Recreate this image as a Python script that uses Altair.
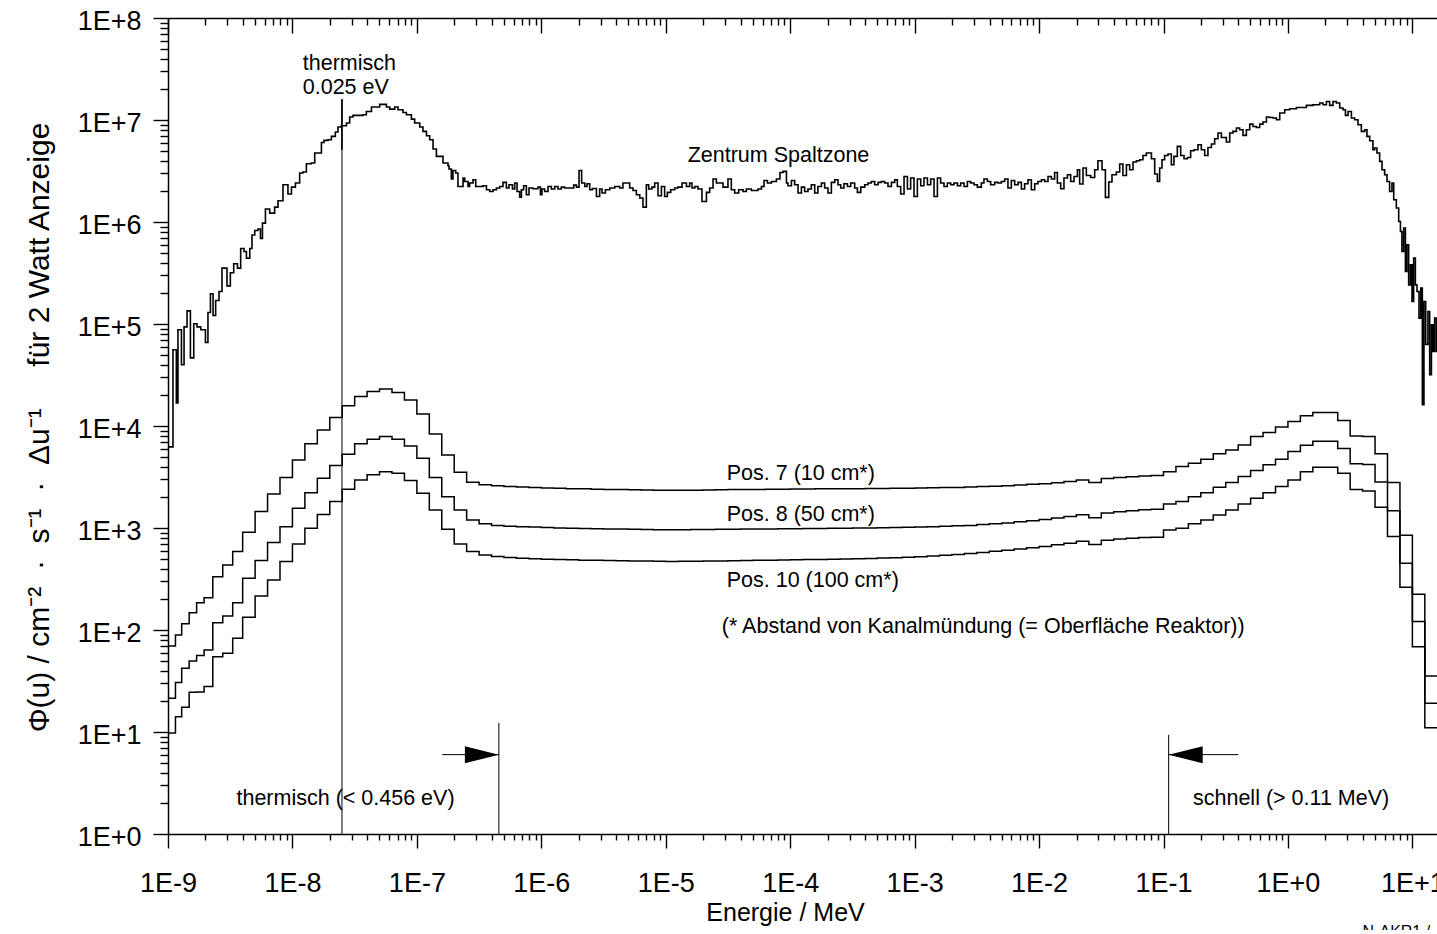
import altair as alt
import numpy as np
import pandas as pd

FONT = "Liberation Sans"

# ---------------- data ----------------
# Bin edges (MeV) of the Pos. 7 / 8 / 10 spectra: ten narrow bins below 5e-9 MeV,
# then a regular group structure with 10 groups per decade up to ~16 MeV
pos_low_edges = [1.0e-9, 1.148e-9, 1.288e-9, 1.479e-9, 1.698e-9,
                 1.950e-9, 2.291e-9, 2.754e-9, 3.311e-9, 3.981e-9]
pos_decade_edges = np.logspace(-8.3, 1.2, 96).tolist()

pos7 = [69.8, 89.5, 115, 148, 185, 207, 333, 434, 587, 910,
        1450, 2150, 3120, 4650, 6680, 9160, 12100, 15800, 19500, 21800,
        23000, 21300, 18000, 13100, 8370, 5210, 3520, 2810, 2650, 2600,
        2550, 2520, 2500, 2470, 2450, 2430, 2420, 2400, 2390, 2380,
        2370, 2360, 2350, 2340, 2350, 2350, 2360, 2370, 2380, 2380,
        2390, 2400, 2400, 2410, 2410, 2420, 2420, 2430, 2430, 2440,
        2440, 2450, 2460, 2470, 2480, 2490, 2500, 2520, 2550, 2570,
        2600, 2640, 2680, 2720, 2780, 2850, 2950, 2800, 3050, 3120,
        3180, 3230,
        3270, 3570, 4000, 4320, 4730, 5330, 5830, 6530, 7870, 8630,
        9750, 11100, 12600, 13600, 13600, 11300, 8000, 7870, 5330, 2790,
        849, 224, 35.4]

pos8 = [21.4, 30.5, 42.2, 49.7, 56.1, 63.7, 118, 137, 185, 322,
        479, 719, 1030, 1560, 2220, 3080, 4090, 5290, 6680, 7430,
        7870, 7430, 6380, 4840, 3120, 2030, 1500, 1200, 1100, 1060,
        1040, 1030, 1020, 1010, 1000, 995, 990, 985, 980, 975,
        970, 965, 962, 960, 962, 965, 968, 970, 972, 975,
        978, 980, 982, 985, 988, 990, 993, 996, 1000, 1000,
        1005, 1010, 1015, 1020, 1030, 1040, 1050, 1060, 1080, 1100,
        1120, 1150, 1180, 1210, 1250, 1300, 1350, 1260, 1400, 1440,
        1480, 1510,
        1530, 1720, 1820, 2030, 2220, 2510, 2790, 3190, 3660, 4160,
        4730, 5610, 6490, 7100, 7100, 6010, 4260, 4190, 2830, 1480,
        452, 121, 19.1]

pos10 = [9.8, 14.1, 17.5, 24.5, 24.7, 27.9, 54.8, 59.2, 83, 133,
         216, 310, 469, 698, 995, 1360, 1820, 2400, 2960, 3320,
         3570, 3440, 2920, 2190, 1500, 973, 698, 587, 545, 525,
         515, 505, 500, 495, 490, 487, 484, 482, 480, 478,
         476, 474, 472, 470, 471, 472, 474, 476, 478, 480,
         482, 484, 486, 488, 490, 492, 494, 497, 500, 503,
         507, 511, 516, 522, 530, 540, 550, 562, 575, 590,
         605, 622, 640, 660, 685, 710, 740, 690, 760, 780,
         795, 805,
         813, 958, 995, 1100, 1200, 1340, 1500, 1720, 1960, 2220,
         2550, 2960, 3570, 3940, 3940, 3440, 2380, 2310, 1600, 824,
         262, 68.7, 11.0]

# "Zentrum Spaltzone": fine-group spectrum, read as (log10 E/MeV at group start, log10 flux)
zentrum_thermal = [
    (-9.000, 3.795), (-8.960, 4.747), (-8.933, 4.227), (-8.920, 4.943), (-8.892, 4.600),
    (-8.871, 4.972), (-8.847, 5.129), (-8.820, 4.668), (-8.793, 5.002), (-8.767, 4.972),
    (-8.737, 4.943), (-8.699, 4.818), (-8.679, 5.113), (-8.659, 5.296), (-8.638, 5.083),
    (-8.617, 5.230), (-8.590, 5.319), (-8.566, 5.548), (-8.526, 5.374), (-8.499, 5.502),
    (-8.472, 5.590), (-8.442, 5.548), (-8.416, 5.740), (-8.389, 5.711), (-8.370, 5.646),
    (-8.343, 5.740), (-8.325, 5.872), (-8.303, 5.917), (-8.277, 5.931), (-8.257, 5.838),
    (-8.241, 5.989), (-8.217, 6.127), (-8.183, 6.087), (-8.143, 6.146), (-8.116, 6.208),
    (-8.076, 6.365), (-8.036, 6.274), (-8.008, 6.342), (-7.976, 6.382), (-7.942, 6.480),
    (-7.915, 6.490), (-7.888, 6.571), (-7.848, 6.578), (-7.821, 6.676), (-7.767, 6.780),
    (-7.746, 6.800), (-7.714, 6.807), (-7.687, 6.839), (-7.655, 6.882), (-7.634, 6.931),
    (-7.607, 6.944), (-7.566, 6.970), (-7.540, 7.029), (-7.513, 7.045), (-7.433, 7.052),
    (-7.406, 7.084), (-7.365, 7.127), (-7.299, 7.153), (-7.245, 7.127), (-7.218, 7.107),
    (-7.178, 7.127), (-7.152, 7.101), (-7.112, 7.074), (-7.084, 7.052), (-7.044, 7.009),
    (-7.018, 6.970), (-6.977, 6.931), (-6.951, 6.888), (-6.923, 6.846), (-6.897, 6.806),
    (-6.870, 6.715), (-6.843, 6.643), (-6.790, 6.578), (-6.750, 6.551), (-6.742, 6.519),
    (-6.723, 6.421), (-6.710, 6.505), (-6.688, 6.480), (-6.670, 6.348), (-6.629, 6.431),
    (-6.616, 6.397), (-6.589, 6.348), (-6.576, 6.382), (-6.549, 6.414), (-6.527, 6.348),
]
zentrum_epithermal = [
    (-6.469, 6.355), (-6.441, 6.316), (-6.415, 6.299), (-6.388, 6.316), (-6.361, 6.333),
    (-6.334, 6.348), (-6.308, 6.388), (-6.281, 6.333), (-6.260, 6.365), (-6.232, 6.323),
    (-6.214, 6.382), (-6.195, 6.299), (-6.174, 6.244), (-6.160, 6.316), (-6.142, 6.355),
    (-6.120, 6.267), (-6.099, 6.333), (-6.067, 6.326), (-6.027, 6.342), (-6.007, 6.267),
    (-5.995, 6.323), (-5.973, 6.299), (-5.946, 6.348), (-5.919, 6.323), (-5.892, 6.348),
    (-5.866, 6.323), (-5.839, 6.342), (-5.812, 6.333), (-5.740, 6.362), (-5.718, 6.342),
    (-5.697, 6.505), (-5.676, 6.382), (-5.651, 6.348), (-5.633, 6.375), (-5.611, 6.316),
    (-5.590, 6.328), (-5.557, 6.250), (-5.531, 6.323), (-5.512, 6.284), (-5.485, 6.316),
    (-5.450, 6.333), (-5.410, 6.348), (-5.370, 6.333), (-5.344, 6.382), (-5.290, 6.333),
    (-5.263, 6.309), (-5.236, 6.267), (-5.209, 6.235), (-5.183, 6.146), (-5.156, 6.365),
    (-5.137, 6.323), (-5.111, 6.342), (-5.089, 6.382), (-5.062, 6.257), (-5.035, 6.348),
    (-5.009, 6.250), (-4.987, 6.290), (-4.960, 6.316), (-4.928, 6.333), (-4.902, 6.342),
    (-4.869, 6.382), (-4.834, 6.348), (-4.808, 6.382), (-4.789, 6.333), (-4.767, 6.348),
    (-4.741, 6.323), (-4.709, 6.201), (-4.673, 6.290), (-4.647, 6.333), (-4.620, 6.421),
    (-4.593, 6.382), (-4.540, 6.342), (-4.500, 6.421), (-4.473, 6.316), (-4.446, 6.284),
    (-4.414, 6.316), (-4.379, 6.299), (-4.352, 6.323), (-4.312, 6.309), (-4.259, 6.323),
    (-4.231, 6.348), (-4.210, 6.407), (-4.183, 6.382), (-4.151, 6.397), (-4.111, 6.421),
    (-4.082, 6.486), (-4.058, 6.496), (-4.030, 6.382), (-4.018, 6.355), (-3.990, 6.407),
    (-3.964, 6.365), (-3.937, 6.284), (-3.910, 6.342), (-3.884, 6.299), (-3.857, 6.323),
    (-3.830, 6.365), (-3.803, 6.284), (-3.777, 6.348), (-3.749, 6.382), (-3.723, 6.333),
    (-3.696, 6.284), (-3.669, 6.388), (-3.642, 6.414), (-3.616, 6.365), (-3.594, 6.333),
    (-3.568, 6.375), (-3.540, 6.348), (-3.514, 6.382), (-3.482, 6.333), (-3.460, 6.290),
    (-3.433, 6.342), (-3.401, 6.365), (-3.375, 6.382), (-3.348, 6.397), (-3.321, 6.365),
    (-3.294, 6.388), (-3.267, 6.397), (-3.241, 6.382), (-3.214, 6.348), (-3.187, 6.388),
    (-3.160, 6.414), (-3.139, 6.348), (-3.112, 6.274), (-3.085, 6.446), (-3.058, 6.323),
    (-3.032, 6.431), (-3.005, 6.250), (-2.978, 6.421), (-2.951, 6.355), (-2.925, 6.431),
    (-2.897, 6.365), (-2.871, 6.421), (-2.844, 6.250), (-2.817, 6.431), (-2.791, 6.382),
    (-2.764, 6.348), (-2.737, 6.382), (-2.710, 6.365), (-2.684, 6.382), (-2.656, 6.355),
    (-2.630, 6.382), (-2.603, 6.348), (-2.576, 6.397), (-2.550, 6.382), (-2.523, 6.365),
    (-2.496, 6.342), (-2.464, 6.382), (-2.443, 6.421), (-2.415, 6.397), (-2.389, 6.365),
    (-2.357, 6.388), (-2.330, 6.382), (-2.303, 6.397), (-2.276, 6.421), (-2.250, 6.333),
    (-2.223, 6.407), (-2.196, 6.365), (-2.169, 6.388), (-2.142, 6.323), (-2.116, 6.375),
    (-2.089, 6.414), (-2.062, 6.316), (-2.035, 6.375), (-2.009, 6.397), (-1.981, 6.414),
    (-1.955, 6.397), (-1.928, 6.446), (-1.901, 6.421), (-1.875, 6.486),
]
zentrum_fast = [
    (-1.853, 6.382), (-1.826, 6.326), (-1.800, 6.431), (-1.772, 6.463), (-1.746, 6.397),
    (-1.719, 6.446), (-1.692, 6.512), (-1.674, 6.372), (-1.647, 6.529), (-1.620, 6.456),
    (-1.585, 6.437), (-1.553, 6.512), (-1.527, 6.600), (-1.494, 6.512), (-1.467, 6.241),
    (-1.440, 6.392), (-1.414, 6.463), (-1.379, 6.490), (-1.352, 6.568), (-1.326, 6.456),
    (-1.298, 6.561), (-1.272, 6.512), (-1.245, 6.588), (-1.218, 6.600), (-1.191, 6.610),
    (-1.165, 6.652), (-1.138, 6.676), (-1.097, 6.620), (-1.071, 6.470), (-1.049, 6.397),
    (-1.031, 6.529), (-1.012, 6.610), (-0.991, 6.652), (-0.964, 6.666), (-0.937, 6.561),
    (-0.916, 6.643), (-0.889, 6.741), (-0.862, 6.652), (-0.835, 6.620), (-0.808, 6.633),
    (-0.782, 6.699), (-0.755, 6.708), (-0.723, 6.757), (-0.696, 6.708), (-0.669, 6.652),
    (-0.643, 6.731), (-0.615, 6.764), (-0.589, 6.816), (-0.562, 6.872), (-0.535, 6.829),
    (-0.495, 6.784), (-0.468, 6.872), (-0.442, 6.888), (-0.414, 6.921), (-0.388, 6.904),
    (-0.361, 6.849), (-0.334, 6.904), (-0.307, 6.960), (-0.281, 6.937), (-0.254, 6.927),
    (-0.227, 6.960), (-0.201, 6.980), (-0.173, 7.029), (-0.147, 7.025), (-0.120, 7.019),
    (-0.093, 7.003), (-0.066, 7.068), (-0.026, 7.101), (0.014, 7.110), (0.068, 7.123),
    (0.148, 7.143), (0.201, 7.150), (0.255, 7.166), (0.282, 7.150), (0.309, 7.182),
    (0.335, 7.143), (0.362, 7.182), (0.389, 7.166), (0.416, 7.117), (0.442, 7.101),
    (0.462, 7.045), (0.483, 7.084), (0.510, 7.019), (0.536, 7.003), (0.563, 6.954),
    (0.590, 6.888), (0.617, 6.904), (0.635, 6.839), (0.657, 6.797), (0.683, 6.708),
    (0.697, 6.725), (0.715, 6.676), (0.737, 6.594), (0.756, 6.512), (0.777, 6.463),
    (0.796, 6.397), (0.817, 6.299), (0.836, 6.382), (0.850, 6.218), (0.871, 6.137),
    (0.890, 6.005), (0.904, 5.907), (0.916, 5.711), (0.930, 5.940), (0.944, 5.515),
    (0.956, 5.777), (0.970, 5.384), (0.984, 5.580), (0.997, 5.220), (1.010, 5.646),
    (1.024, 5.384), (1.037, 5.319), (1.053, 5.058), (1.067, 5.352), (1.080, 4.210),
    (1.093, 5.220), (1.107, 4.800), (1.125, 5.122), (1.139, 4.502), (1.153, 4.992),
    (1.166, 4.730), (1.179, 5.058), (1.193, 4.730), (1.250, 4.730),
]

# annotations (data coordinates: E in MeV, flux)
label_text = ["thermisch", "0.025 eV", "Zentrum Spaltzone",
              "Pos. 7 (10 cm*)", "Pos. 8 (50 cm*)", "Pos. 10 (100 cm*)",
              "(* Abstand von Kanalmündung (= Oberfläche Reaktor))",
              "thermisch (< 0.456 eV)", "schnell (> 0.11 MeV)"]
label_E = [1.21e-8, 1.21e-8, 1.5e-5, 3.09e-5, 3.09e-5, 3.09e-5, 2.82e-5, 3.55e-9, 0.1726]
label_phi = [3.1e7, 1.81e7, 3.9e6, 2970, 1170, 264, 93.5, 1.92, 1.92]

marker_E = [2.5e-8, 4.56e-7, 0.11]        # 0.025 eV, 0.456 eV, 0.11 MeV
marker_top = [1.6e7, 12.3, 9.4]
thermal_bold = (5.1e6, 1.6e7)
arrow_y = 6.0
arrow_right = (1.6e-7, 4.56e-7)
arrow_left = (0.11, 0.4)

footer_text = "N-AKR1 /"
footer_pos = (3.98, 0.097)

# ---------------- tables ----------------
pos_edges = pos_low_edges + pos_decade_edges
rows = []
for name, vals in [("Pos. 7", pos7), ("Pos. 8", pos8), ("Pos. 10", pos10)]:
    for i, v in enumerate(vals):
        rows.append({"series": name, "E": pos_edges[i], "phi": v, "i": i})
    rows.append({"series": name, "E": pos_edges[len(vals)], "phi": vals[-1], "i": len(vals)})
pos_df = pd.DataFrame(rows)

zent = zentrum_thermal + zentrum_epithermal + zentrum_fast
zent_df = pd.DataFrame({"E": [10 ** a for a, b in zent], "phi": [10 ** b for a, b in zent]})
zent_df["i"] = range(len(zent_df))

lab_df = pd.DataFrame({"E": label_E, "phi": label_phi, "text": label_text})
rule_df = pd.DataFrame({"E": marker_E, "phi": [1.0] * 3, "hi": marker_top})
bold_df = pd.DataFrame({"E": [marker_E[0]], "phi": [thermal_bold[0]], "hi": [thermal_bold[1]]})
arrow_df = pd.DataFrame({"E": [arrow_right[0], arrow_left[0]], "E2": [arrow_right[1], arrow_left[1]],
                         "phi": [arrow_y, arrow_y]})
head_r = pd.DataFrame({"E": [arrow_right[1]], "phi": [arrow_y]})
head_l = pd.DataFrame({"E": [arrow_left[0]], "phi": [arrow_y]})
foot_df = pd.DataFrame({"E": [footer_pos[0]], "phi": [footer_pos[1]], "text": [footer_text]})

# ---------------- scales & axes ----------------
X_MAX = 15.77
xscale = alt.Scale(type="log", domain=[1e-9, X_MAX], nice=False)
yscale = alt.Scale(type="log", domain=[1, 1e8], nice=False)

x_ticks = [k * 10.0 ** n for n in range(-9, 2) for k in range(1, 10) if k * 10.0 ** n <= X_MAX]
y_ticks = [k * 10.0 ** n for n in range(0, 8) for k in range(1, 10)] + [1e8]

LG = "log(datum.value)/LN10"
MAJOR = f"abs({LG} - round({LG})) < 0.001"
LABEL = f"{MAJOR} ? '1E' + (round({LG}) >= 0 ? '+' : '') + round({LG}) : ''"

x_bottom = alt.Axis(
    orient="bottom", values=x_ticks, labelExpr=LABEL, grid=False,
    tickSize={"condition": {"test": MAJOR, "value": 14}, "value": 6},
    tickColor="black", tickWidth=1.4, domainColor="black", domainWidth=1.5,
    labelFont=FONT, labelFontSize=27, labelColor="black", labelBaseline="alphabetic",
    labelPadding=43, labelFlush=False, labelOverlap=False,
    title="Energie / MeV", titleFont=FONT, titleFontSize=25, titleFontWeight="normal",
    titleColor="black", titleX=617, titleY=86, titleAlign="center", titleBaseline="alphabetic",
)
x_top = alt.Axis(
    orient="top", values=x_ticks, labels=False, grid=False, title=None,
    tickSize={"expr": f"{MAJOR} ? -15 : -7"},
    tickColor="black", tickWidth=1.4, domainColor="black", domainWidth=1.5,
)
NB = "\u00a0"
y_title = ("Φ(u) / cm⁻²" + NB * 2 + "·" + NB * 2 + "s⁻¹" + NB * 2 + "·" + NB * 2 + "Δu⁻¹"
           + NB * 5 + "für 2 Watt Anzeige")
y_left = alt.Axis(
    orient="left", values=y_ticks, labelExpr=LABEL, grid=False,
    tickSize={"condition": {"test": MAJOR, "value": 15}, "value": 8},
    tickColor="black", tickWidth=1.4, domainColor="black", domainWidth=1.5,
    labelFont=FONT, labelFontSize=27, labelColor="black", labelBaseline="alphabetic",
    labelOffset=11.5, labelPadding=12, labelFlush=False, labelOverlap=False,
    title=y_title, titleFont=FONT, titleFontSize=30, titleFontWeight="normal", titleColor="black",
    titleAngle=270, titleX=-120, titleY=409, titleAlign="center", titleBaseline="alphabetic",
)


def X(axis=None):
    return alt.X("E:Q", scale=xscale, axis=axis)


def Y():
    return alt.Y("phi:Q", scale=yscale, axis=y_left)


pos_layer = alt.Chart(pos_df).mark_line(
    interpolate="step-after", color="black", strokeWidth=1.5, clip=True
).encode(x=X(x_bottom), y=Y(), detail="series:N", order="i:Q")

zent_layer = alt.Chart(zent_df).mark_line(
    interpolate="step-after", color="black", strokeWidth=1.6, clip=True
).encode(x=X(x_top), y=Y(), order="i:Q")

rule_layer = alt.Chart(rule_df).mark_rule(color="black", strokeWidth=1).encode(
    x=X(), y=Y(), y2="hi:Q")
bold_layer = alt.Chart(bold_df).mark_rule(color="black", strokeWidth=1.6).encode(
    x=X(), y=Y(), y2="hi:Q")
arrow_layer = alt.Chart(arrow_df).mark_rule(color="black", strokeWidth=1).encode(
    x=X(), x2="E2:Q", y=Y())
head_r_layer = alt.Chart(head_r).mark_point(
    shape="M0,0L-2,-0.5L-2,0.5Z", size=1156, filled=True, color="black", opacity=1
).encode(x=X(), y=Y())
head_l_layer = alt.Chart(head_l).mark_point(
    shape="M0,0L2,-0.5L2,0.5Z", size=1156, filled=True, color="black", opacity=1
).encode(x=X(), y=Y())
text_layer = alt.Chart(lab_df).mark_text(
    align="left", baseline="alphabetic", font=FONT, fontSize=21.5, color="black"
).encode(x=X(), y=Y(), text="text:N")
foot_layer = alt.Chart(foot_df).mark_text(
    align="left", baseline="alphabetic", font=FONT, fontSize=16, color="black"
).encode(x=X(), y=Y(), text="text:N")

chart = alt.layer(
    pos_layer, zent_layer, rule_layer, bold_layer, arrow_layer,
    head_r_layer, head_l_layer, text_layer, foot_layer
).resolve_axis(x="independent").properties(
    width=1269, height=816,
    padding={"left": 168, "top": 18, "right": 0, "bottom": 96},
    autosize=alt.AutoSizeParams(type="none"),
    background="white",
).configure_view(strokeWidth=0)

chart.save("out.html", embed_options={"renderer": "svg", "actions": False})
